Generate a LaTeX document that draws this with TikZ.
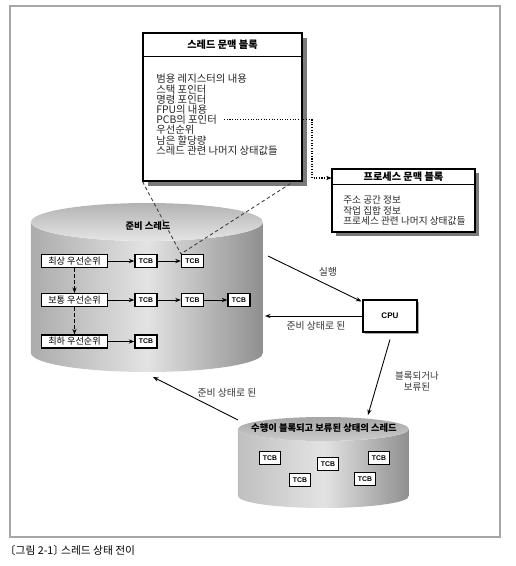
\documentclass[tikz,border=0pt]{standalone}
\usepackage{fontspec}
\setmainfont{Noto Sans CJK KR}
\newfontfamily\lat{Liberation Sans}
\usetikzlibrary{arrows.meta,shadows,calc}
\begin{document}
\begin{tikzpicture}[x=0.02cm,y=-0.02cm,
  txt/.style={font=\fontsize{5.9}{6.5}\selectfont, inner sep=0pt, anchor=west, text=black!85},
  ptxt/.style={txt, font=\fontsize{5.5}{6.5}\selectfont},
  ttl/.style={font=\bfseries\fontsize{5.8}{6.5}\selectfont, inner sep=0pt},
  tcb/.style={draw=black, line width=0.7pt, fill=white, minimum width=0.44cm, minimum height=0.26cm, inner sep=0pt, font=\lat\bfseries\fontsize{3.9}{4}\selectfont},
  btcb/.style={tcb, minimum width=0.42cm, minimum height=0.25cm},
  prio/.style={draw=black, line width=0.6pt, fill=white, minimum width=1.32cm, minimum height=0.26cm, inner sep=0pt, font=\fontsize{5.2}{5.5}\selectfont},
  ctx/.style={draw=black, line width=0.6pt, fill=white, inner sep=0pt},
  arr/.style={-{Stealth[length=3.2pt,width=2.4pt]}, line width=0.5pt},
  dsh/.style={dash pattern=on 2pt off 1.5pt},
  lbl/.style={font=\fontsize{5.6}{6.5}\selectfont, inner sep=0pt, text=black!80},
  cyltitle/.style={font=\bfseries\fontsize{5.3}{5.5}\selectfont, inner sep=0pt},
]
\useasboundingbox (0,0) rectangle (516,566);
\draw[gray!70, line width=0.6pt] (10,6) rectangle (500,537);

% top cylinder (ready threads)
\shade[left color=gray!65, right color=gray!88, middle color=gray!22]
  (31,222) -- (31,353) arc[start angle=180,end angle=360,x radius=2.32cm,y radius=0.38cm]
  -- (263,222) arc[start angle=0,end angle=-180,x radius=2.32cm,y radius=0.38cm] -- cycle;
\shade[top color=gray!60, bottom color=gray!20] (147,222) ellipse[x radius=2.32cm, y radius=0.38cm];
\node[cyltitle] (rdy) at (148,226) {준비 스레드};

% bottom cylinder (blocked threads)
\shade[left color=gray!50, right color=gray!88, middle color=gray!22]
  (238,429) -- (238,496) arc[start angle=180,end angle=360,x radius=1.71cm,y radius=0.24cm]
  -- (409,429) arc[start angle=0,end angle=-180,x radius=1.71cm,y radius=0.24cm] -- cycle;
\shade[top color=gray!70, bottom color=gray!40] (323.5,429) ellipse[x radius=1.71cm, y radius=0.24cm];
\node[cyltitle] (blk) at (324,428) {수행이 블록되고 보류된 상태의 스레드};

% priority rows
\node[prio] (p1) at (74.5,261) {최상 우선순위};
\node[prio] (p2) at (74.5,300) {보통 우선순위};
\node[prio] (p3) at (74.5,341.5) {최하 우선순위};
\node[tcb] (t11) at (146,261) {TCB};
\node[tcb] (t12) at (192.5,261) {TCB};
\node[tcb] (t21) at (146,300) {TCB};
\node[tcb] (t22) at (192.5,300) {TCB};
\node[tcb] (t23) at (239,300) {TCB};
\node[tcb] (t31) at (146,341.5) {TCB};
\draw[arr] (p1) -- (t11);
\draw[arr] (t11) -- (t12);
\draw[arr] (p2) -- (t21);
\draw[arr] (t21) -- (t22);
\draw[arr] (t22) -- (t23);
\draw[arr] (p3) -- (t31);
\draw[arr, dsh] (p1.south) -- (p2.north);
\draw[arr, dsh] (p2.south) -- (p3.north);

% bottom TCBs
\node[btcb] (b1) at (270,458) {TCB};
\node[btcb] (b2) at (300,480) {TCB};
\node[btcb] (b3) at (328,464) {TCB};
\node[btcb] (b4) at (365,479) {TCB};
\node[btcb] (b5) at (379,458) {TCB};

% thread context block
\node[ctx, minimum width=3.18cm, minimum height=2.96cm,
  drop shadow={shadow xshift=2.8pt, shadow yshift=-2.8pt, fill=black!65, opacity=0.8}] (thr) at (222.5,107) {};
\draw[dsh, line width=0.5pt, black!75] (thr.south west) -- (t12.north west);
\draw[dsh, line width=0.5pt, black!75] ($(thr.south east)+(-12,2)$) -- (t12.north west);
\node[ctx, minimum width=3.18cm, minimum height=2.96cm] (thrb) at (222.5,107) {};
\draw[line width=0.6pt] ($(thrb.north west)+(0,24)$) -- ($(thrb.north east)+(0,24)$);
\node[ttl] (thrt) at (222.5,45) {스레드 문맥 블록};
\node[txt] (l1) at (156,79) {범용 레지스터의 내용};
\node[txt] (l2) at (156,89.2) {스택 포인터};
\node[txt] (l3) at (156,99.4) {명령 포인터};
\node[txt] (l4) at (156,109.6) {FPU의 내용};
\node[txt] (pcb) at (156,119.8) {PCB의 포인터};
\node[txt] (l6) at (156,130) {우선순위};
\node[txt] (l7) at (156,140.2) {남은 할당량};
\node[txt] (l8) at (156,150.4) {스레드 관련 나머지 상태값들};

% process context block
\node[ctx, minimum width=2.86cm, minimum height=1.26cm,
  drop shadow={shadow xshift=2.2pt, shadow yshift=-2.2pt, fill=black!65, opacity=0.8}] (prc) at (403.5,200.5) {};
\draw[line width=0.6pt] ($(prc.north west)+(0,16)$) -- ($(prc.north east)+(0,16)$);
\node[ttl] (prct) at (403.5,177) {프로세스 문맥 블록};
\node[ptxt] (m1) at (343,200) {주소 공간 정보};
\node[ptxt] (m2) at (343,210.5) {작업 집합 정보};
\node[ptxt] (m3) at (343,221) {프로세스 관련 나머지 상태값들};

\coordinate (dbend) at (312,178);
\draw[-{Stealth[length=3pt,width=2.4pt]}, line width=0.6pt, dash pattern=on 0.6pt off 0.9pt]
  ([xshift=4pt]pcb.east) -| (dbend) -- (prc.west |- dbend);

% CPU
\node[ctx, minimum width=1.08cm, minimum height=0.64cm, font=\lat\bfseries\fontsize{4.6}{5}\selectfont,
  drop shadow={shadow xshift=1.2pt, shadow yshift=-1.2pt, fill=black!50, opacity=0.7}] (cpu) at (390,316) {CPU};

\coordinate (rdyA) at (268,256);
\coordinate (rdyB) at (265,316);
\coordinate (blkA) at (368,415);
\coordinate (wA) at (238,420);
\coordinate (wB) at (153,377);
\draw[arr] (rdyA) -- ($(cpu.north west)+(-1,2)$);
\node[lbl] (run) at (328,272) {실행};
\draw[arr] (cpu.west) -- (rdyB);
\node[lbl] (toready) at (316,326) {준비 상태로 된};
\draw[arr] ($(cpu.south)+(0,7)$) -- (blkA);
\node[lbl, align=center, font=\fontsize{5.4}{6.3}\selectfont] (toblk) at (417,381) {블록되거나\\보류된};
\draw[arr] (wA) -- (wB);
\node[lbl] (toready2) at (227,393) {준비 상태로 된};

% caption
\node[font=\fontsize{6.1}{7}\selectfont, anchor=west, inner sep=0pt] (cap) at (10,550) {\kern-0.5em〔그림 2-1〕\kern-0.5em{} 스레드 상태 전이};
\end{tikzpicture}
\end{document}
